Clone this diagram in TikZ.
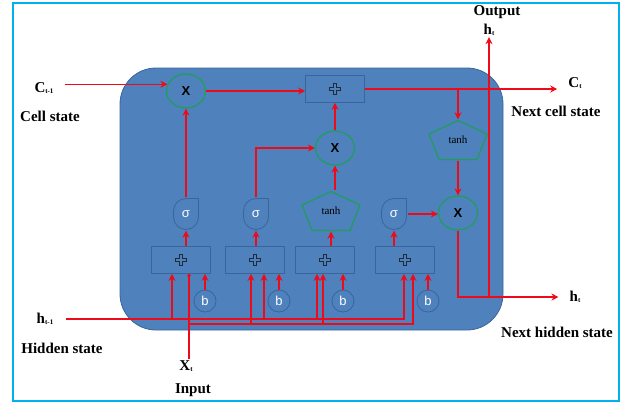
\documentclass[tikz,border=0pt]{standalone}
\usepackage{fontspec}
\setmainfont{Liberation Serif}
\newfontfamily\sansf{Liberation Sans}
\usetikzlibrary{arrows.meta,shapes.geometric,calc}
\definecolor{cellblue}{HTML}{4F81BD}
\definecolor{celledge}{HTML}{3A659A}
\definecolor{gategreen}{HTML}{1E9E5A}
\definecolor{framecol}{HTML}{00B0F0}
\definecolor{arrowred}{HTML}{EE0A18}
\definecolor{plusdark}{HTML}{1F2A3A}
\newcommand{\sublbl}[1]{{\fontsize{7}{7}\selectfont\raisebox{-1.5pt}{#1}}}

\begin{document}
\begin{tikzpicture}[
  x=1pt, y=-1pt,
  cellbg/.style={draw=celledge, fill=cellblue, line width=0.8pt, rounded corners=36pt},
  lbl/.style={font=\bfseries\fontsize{15}{16}\selectfont, inner sep=1pt},
  sumbox/.style={draw=celledge, fill=cellblue, line width=0.8pt, minimum width=59pt, minimum height=27pt, inner sep=0pt,
    path picture={
      \coordinate (pc) at (path picture bounding box.center);
      \draw[line width=4.4pt, draw=plusdark] ($(pc)+(-6,0)$) -- ($(pc)+(6,0)$) ($(pc)+(0,-6)$) -- ($(pc)+(0,6)$);
      \draw[line width=2pt, draw=cellblue] ($(pc)+(-4.9,0)$) -- ($(pc)+(4.9,0)$) ($(pc)+(0,-4.9)$) -- ($(pc)+(0,4.9)$);
    }},
  mulnode/.style={ellipse, draw=gategreen, line width=1.2pt, fill=cellblue, minimum width=39pt, minimum height=34pt, inner sep=0pt,
    font=\sansf\bfseries\fontsize{13}{13}\selectfont},
  signode/.style={minimum width=27pt, minimum height=33pt, inner sep=0pt, text=white,
    font=\sansf\fontsize{13}{13}\selectfont,
    path picture={
      \coordinate (pc) at (path picture bounding box.center);
      \draw[draw=celledge, fill=cellblue, line width=0.8pt] ($(pc)+(12.5,-15.5)$) -- ($(pc)+(12.5,3)$)
        arc[start angle=0, end angle=180, radius=12.5] -- ($(pc)+(-12.5,-3)$)
        arc[start angle=180, end angle=270, radius=12.5] -- cycle;
    }},
  pentnode/.style={minimum width=60pt, minimum height=41pt, inner sep=0pt, font=\fontsize{11}{11}\selectfont,
    path picture={
      \coordinate (pc) at (path picture bounding box.center);
      \draw[draw=gategreen, fill=cellblue, line width=1.2pt] ($(pc)+(0,-19.5)$) -- ($(pc)+(29,-6)$) -- ($(pc)+(19,19.5)$)
        -- ($(pc)+(-19,19.5)$) -- ($(pc)+(-29,-6)$) -- cycle;
    }},
  biasnode/.style={circle, draw=celledge, fill=cellblue, line width=0.8pt, minimum size=22pt, inner sep=0pt, text=white,
    font=\sansf\fontsize{13}{13}\selectfont},
  wire/.style={draw=arrowred, line width=1.2pt},
  arr/.style={wire, -{Stealth[length=7pt, width=7pt]}}
]
\useasboundingbox (0,0) rectangle (626,404);
\draw[framecol, line width=2.5pt] (13,3) rectangle (619,401);
\draw[cellbg] (120,68) rectangle (503,330);

\node[mulnode] (mulF) at (186,91) {X};
\node[sumbox] (addC) at (335,89) {};
\node[mulnode] (mulI) at (335,148) {X};
\node[pentnode] (tanhC) at (458,140) {tanh};
\node[mulnode] (mulO) at (458,213) {X};

\node[signode] (sig1) at (186,214) {σ};
\node[signode] (sig2) at (256,214) {σ};
\node[pentnode] (tanhB) at (331,211) {tanh};
\node[signode] (sig3) at (394,214) {σ};

\node[sumbox] (add1) at (181,260) {};
\node[sumbox] (add2) at (255,260) {};
\node[sumbox] (add3) at (325,260) {};
\node[sumbox] (add4) at (405,260) {};

\node[biasnode] (b1) at (205,301) {b};
\node[biasnode] (b2) at (279,301) {b};
\node[biasnode] (b3) at (343,301) {b};
\node[biasnode] (b4) at (428,301) {b};

\node[lbl] (cprev) at (44,88) {C\sublbl{t-1}};
\node[lbl] (cprevtxt) at (50,116) {Cell state};
\node[lbl] (hprev) at (45,319) {h\sublbl{t-1}};
\node[lbl] (hprevtxt) at (62,348) {Hidden state};
\node[lbl] (xin) at (186,366) {X\sublbl{t}};
\node[lbl] (xintxt) at (193,390) {Input};
\node[lbl] (outtxt) at (497,12) {Output};
\node[lbl] (hout) at (489,30) {h\sublbl{t}};
\node[lbl] (cnext) at (575,83) {C\sublbl{t}};
\node[lbl] (cnexttxt) at (556,111) {Next cell state};
\node[lbl] (hnext) at (575,297) {h\sublbl{t}};
\node[lbl] (hnexttxt) at (557,332) {Next hidden state};

\draw[arr, shorten <=10pt] (cprev.east |- mulF.160) -- (mulF.160);
\draw[arr] (mulF.east) -- (mulF.east -| addC.west);
\draw[arr, shorten >=10pt] (addC.east) -- (addC.east -| cnext.west);
\draw[arr] (tanhC.north |- addC.east) -- (tanhC.north);
\draw[arr] (sig1.north) -- (mulF.south);
\draw[arr] (sig2.north) |- (mulI.west);
\draw[arr] (mulI |- tanhB.north) -- (mulI.south);
\draw[arr] (mulI.north) -- (mulI.north |- addC.south);
\draw[arr] (sig3.east) -- (sig3.east -| mulO.west);
\draw[arr] (tanhC.south) -- (mulO.north);
\draw[arr, shorten >=10pt] (mulO.south) |- (hnext.west);
\coordinate (hj) at (hout |- hnext.west);
\draw[arr] (hj) -- (hout.south);

\foreach \a/\g in {add1/sig1, add2/sig2, add3/tanhB, add4/sig3}
  \draw[arr] (\g |- \a.north) -- (\g.south);
\foreach \i in {1,...,4}
  \draw[arr] (b\i.north) -- (b\i |- add\i.south);

\draw[arr, shorten <=12pt] (hprev.east) -| ([xshift=-1pt]add4.south);
\foreach \a/\dx in {add1/-9, add2/9, add3/-8}
  \draw[arr] ([xshift=\dx pt]\a.south |- hprev.east) -- ([xshift=\dx pt]\a.south);

\coordinate (xbus) at (189,324);
\draw[wire, -{Circle[length=3.5pt]}] (xbus |- xin.north) -- (xbus |- add1.south);
\draw[arr] (xbus) -| ([xshift=8pt]add4.south);
\foreach \a/\dx in {add2/-4, add3/-2}
  \draw[arr] ([xshift=\dx pt]\a.south |- xbus) -- ([xshift=\dx pt]\a.south);
\end{tikzpicture}
\end{document}
